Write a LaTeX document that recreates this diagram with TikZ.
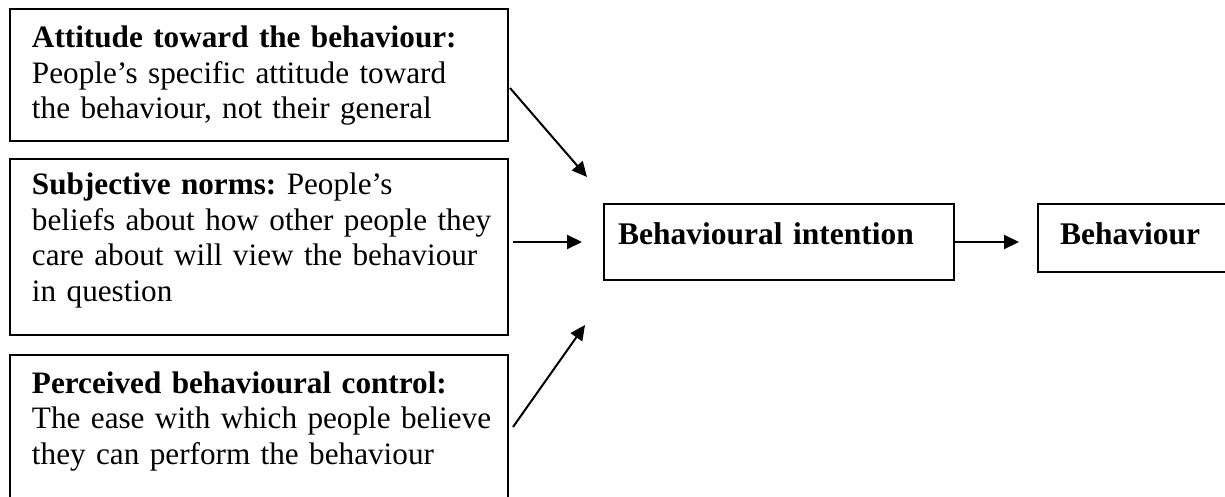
\documentclass[tikz,border=0pt]{standalone}
\usepackage{fontspec}
\setmainfont{Liberation Serif}
\usetikzlibrary{positioning,calc,arrows.meta}

\tikzset{
factor/.style={draw, line width=1pt, outer sep=0pt, inner xsep=11pt, inner ysep=0pt,
  text width=227pt, align=left, anchor=north west,
  font=\fontsize{15.6pt}{17.75pt}\selectfont\frenchspacing},
result/.style={draw, line width=1pt, outer sep=0pt, inner ysep=0pt, align=left,
  anchor=north west, text height=20.5pt,
  font=\fontsize{15.75pt}{17.75pt}\selectfont\bfseries},
link/.style={line width=1pt, -{Triangle[length=7.5pt,width=7pt]}}
}

\begin{document}
\begin{tikzpicture}
\useasboundingbox (0,0) rectangle (612.5pt,-248.5pt);

\node[factor, text height=19.5pt, text depth=46.5pt] (att) at (5pt,-4.5pt)
{\mbox{\textbf{Attitude toward the behaviour:}}\\ \mbox{People’s specific attitude toward}\\ \mbox{the behaviour, not their general}};
\node[factor, text height=18pt, text depth=70pt, below=9pt of att.south west, anchor=north west] (sub)
{\mbox{\textbf{Subjective norms:} People’s}\\ \mbox{beliefs about how other people they}\\ \mbox{care about will view the behaviour}\\ \mbox{in question}};
\node[factor, text height=19pt, text depth=68.5pt, below=10pt of sub.south west, anchor=north west] (per)
{\mbox{\textbf{Perceived behavioural control:}}\\ \mbox{The ease with which people believe}\\ \mbox{they can perform the behaviour}};

\node[result, inner xsep=7pt, text width=161pt, text depth=17.5pt] (intent) at (302pt,-102pt)
{Behavioural intention};
\node[result, inner xsep=11pt, text width=80pt, text depth=13.5pt, right=42pt of intent.north east, anchor=north west] (beh)
{Behaviour};

\draw[link] ($(att.east)+(1pt,-6.5pt)$) -- ($(intent.north west)+(-8.5pt,13.5pt)$);
\draw[link, shorten <=2.5pt, shorten >=11pt] (sub.east |- intent.west) -- (intent.west);
\draw[link] ($(per.north east)+(2.5pt,-36pt)$) -- ($(intent.south west)+(-9.5pt,-22.5pt)$);
\draw[link, shorten >=9.5pt] (intent.east) -- (intent.east -| beh.west);
\end{tikzpicture}
\end{document}
